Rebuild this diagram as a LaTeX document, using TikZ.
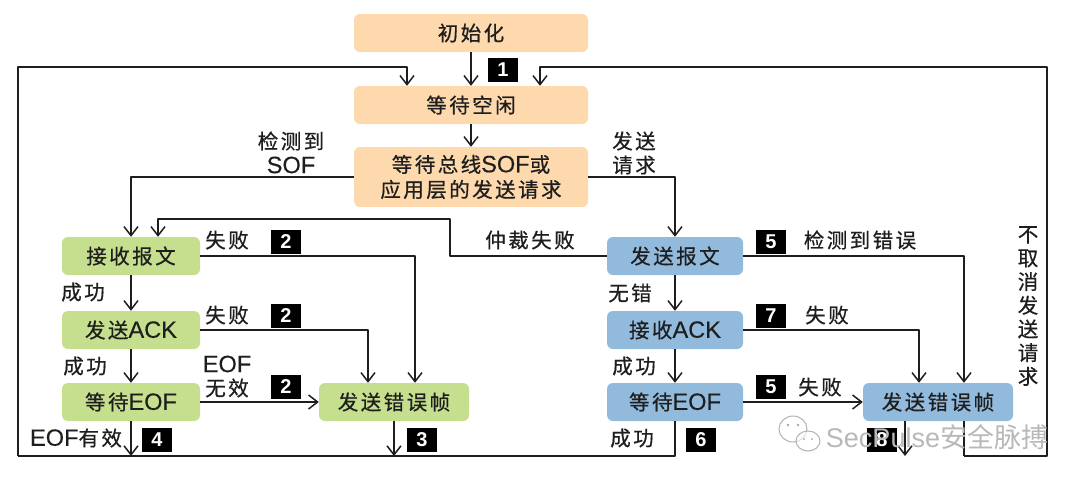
\documentclass[tikz,border=0pt]{standalone}
\usepackage{fontspec}
\setmainfont[LetterSpace=12,FakeBold=0.6]{Noto Sans CJK SC}
\newfontfamily\latf[FakeBold=0.3,Scale=1.15]{Liberation Sans}
\newfontfamily\latb{Liberation Sans}
\newfontfamily\wmcjk{Noto Sans CJK SC}
\newcommand{\la}[1]{{\latf #1}}
\usetikzlibrary{arrows.meta,calc}
\definecolor{orangebox}{HTML}{FDD9AD}
\definecolor{greenbox}{HTML}{C6DF8E}
\definecolor{bluebox}{HTML}{92BADD}
\definecolor{ink}{HTML}{1E1E1E}
\tikzset{
  x=1pt,y=-1pt,
  every node/.style={font=\fontsize{20.5}{25}\selectfont,text=ink,inner sep=0pt,align=center},
  statebox/.style={rounded corners=6pt,minimum height=38pt,anchor=center},
  orangest/.style={statebox,fill=orangebox,minimum width=234pt},
  greenst/.style={statebox,fill=greenbox,minimum width=138pt},
  bluest/.style={statebox,fill=bluebox,minimum width=136pt},
  tag/.style={fill=black,text=white,minimum width=30pt,minimum height=24pt,font=\latb\bfseries\fontsize{20}{20}\selectfont},
  conn/.style={draw=ink,line width=1.5pt,line join=round},
  arr/.style={conn,-{Straight Barb[length=9pt,width=14pt,line width=1.5pt]}},
  wmline/.style={draw=black!30,line width=1pt,fill=white,fill opacity=.6}
}
\begin{document}
\begin{tikzpicture}
\useasboundingbox (0,0) rectangle (1080,483);
\fill[white] (0,0) rectangle (1080,483);
% states
\node[orangest] (init) at (471,33) {初始化};
\node[orangest] (idle) at (471,105) {等待空闲};
\node[orangest,minimum height=60pt] (wait) at (471,177) {等待总线\la{SOF}或\\应用层的发送请求};
\node[greenst] (rx) at (131,256) {接收报文};
\node[greenst] (ack) at (131,330) {发送\la{ACK}};
\node[greenst] (eofl) at (131,402) {等待\la{EOF}};
\node[greenst,minimum width=150pt] (errl) at (394,402) {发送错误帧};
\node[bluest] (tx) at (675,256) {发送报文};
\node[bluest] (rack) at (675,330) {接收\la{ACK}};
\node[bluest] (eofr) at (675,402) {等待\la{EOF}};
\node[bluest,minimum width=150pt] (errr) at (938,402) {发送错误帧};
% free points
\coordinate (ltop) at (407,67);
\coordinate (lleft) at (18,67);
\coordinate (lbot) at (18,456);
\coordinate (rtop) at (540,67);
\coordinate (rright) at (1047,67);
\coordinate (rbot) at (1047,456);
\coordinate (rin) at (964,456);
\coordinate (arbA) at (450,219);
\coordinate (arbB) at (158,219);
\coordinate (busl) at (131,456);
\coordinate (busm) at (394,456);
\coordinate (busr) at (675,456);
\coordinate (out) at (905,456);
% connectors
\draw[arr] (init) -- (idle);
\draw[arr] (idle) -- (wait);
\draw[arr] (lbot) -- (lleft) -- (ltop) -- (ltop |- idle.north);
\draw[arr] (rin) -- (rbot) -- (rright) -- (rtop) -- (rtop |- idle.north);
\draw[arr] (wait.west) -| (rx.north);
\draw[arr] (wait.east) -| (tx.north);
\draw[arr] (tx.west) -| (arbA) -- (arbB) -- (arbB |- rx.north);
\draw[arr] (rx) -- (ack);
\draw[arr] (ack) -- (eofl);
\draw[arr] (tx) -- (rack);
\draw[arr] (rack) -- (eofr);
\draw[arr] (rx.east) -| ([xshift=21pt]errl.north);
\draw[arr] (ack.east) -| ([xshift=-26pt]errl.north);
\draw[arr] (eofl) -- (errl);
\draw[arr] (tx.east) -| ([xshift=26pt]errr.north);
\draw[arr] (rack.east) -| ([xshift=-19pt]errr.north);
\draw[arr] (eofr) -- (errr);
\draw[arr] (eofl) -- (busl);
\draw[arr] (errl) -- (busm);
\draw[conn] (lbot) -- (busl) -- (busm) -- (busr) -- (eofr);
\draw[arr] (errr.south -| out) -- (out);
\draw[conn] (errr.south -| rin) -- (rin);
% tags
\node[tag] (t1) at (503,70) {1};
\node[tag] (t2a) at (286,242) {2};
\node[tag] (t2b) at (286,316) {2};
\node[tag] (t2c) at (286,387) {2};
\node[tag] (t4) at (157,440) {4};
\node[tag] (t3) at (422,440) {3};
\node[tag] (t5a) at (771,242) {5};
\node[tag] (t7) at (771,316) {7};
\node[tag] (t5b) at (771,387) {5};
\node[tag] (t6) at (701,440) {6};
\node[tag] (t8) at (882,440) {8};
% labels
\node (a1) at (291,141) {检测到};
\node (a2) at (291,165) {\la{SOF}};
\node (b1) at (634,141) {发送};
\node (b2) at (634,165) {请求};
\node (c1) at (227,240) {失败};
\node (c2) at (227,315) {失败};
\node (c3) at (227,364) {\la{EOF}};
\node (c4) at (227,388) {无效};
\node (d1) at (83,292) {成功};
\node (d2) at (85,366) {成功};
\node (d3) at (76,438) {\la{EOF}有效};
\node (e1) at (530,240) {仲裁失败};
\node (e2) at (860,240) {检测到错误};
\node (e3) at (630,293) {无错};
\node (e4) at (827,315) {失败};
\node (e5) at (634,366) {成功};
\node (e6) at (820,387) {失败};
\node (e7) at (632,438) {成功};
\node[font=\fontsize{20.5}{23.7}\selectfont] (e8) at (1028,306) {不\\取\\消\\发\\送\\请\\求};
% watermark
\draw[wmline] (793,429) ellipse (14 and 13);
\draw[wmline] (808,441) ellipse (12 and 10);
\fill[black!35] (788,425) circle (1.3) (798,425) circle (1.3) (804,439) circle (1) (812,439) circle (1);
\node[text=black!28,font=\latb\fontsize{27}{27}\selectfont] (wm) at (937,437) {SecPulse{\wmcjk 安全脉搏}};
\end{tikzpicture}
\end{document}
